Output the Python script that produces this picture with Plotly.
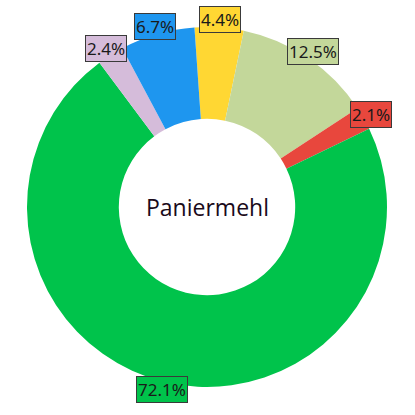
import math
import plotly.graph_objects as go

labels = ["Gelb", "Hellgrün", "Rot", "Grün", "Lila", "Blau"]
values = [4.4, 12.5, 2.1, 72.1, 2.4, 6.7]
colors = ["#FFD733", "#C3D79A", "#E8473D", "#00C34B", "#D5BCDA", "#1E96EF"]
label_text = ["4.4%", "12.5%", "2.1%", "72.1%", "2.4%", "6.7%"]
center_title = "Paniermehl"

W = H = 415
cx, cy, R = 207, 207, 180
rotation = -4

fig = go.Figure(go.Pie(
    labels=labels, values=values, sort=False, direction="clockwise",
    rotation=rotation, hole=0.49,
    marker=dict(colors=colors, line=dict(width=0)),
    textinfo="none", hoverinfo="label+percent", showlegend=False,
    domain=dict(x=[(cx - R) / W, (cx + R) / W], y=[1 - (cy + R) / H, 1 - (cy - R) / H]),
))

total = sum(values)
start = rotation
annotations = []
for v, c, t in zip(values, colors, label_text):
    span = v / total * 360
    mid = math.radians(start + span / 2)
    start += span
    r = R * 1.045
    x = cx + r * math.sin(mid)
    y = cy - r * math.cos(mid)
    annotations.append(dict(
        x=x / W, y=1 - y / H, xref="paper", yref="paper", text=t, showarrow=False,
        font=dict(family="Noto Sans", size=17, color="#1a1a1a"),
        bgcolor=c, bordercolor="#3a3a3a", borderwidth=1, borderpad=1,
        xanchor="center", yanchor="middle",
    ))

annotations.append(dict(
    x=cx / W, y=1 - cy / H, xref="paper", yref="paper", text=center_title, showarrow=False,
    font=dict(family="Open Sans", size=23, color="#1a0a1a"), xanchor="center", yanchor="middle",
))

fig.update_layout(
    width=W, height=H, margin=dict(l=0, r=0, t=0, b=0),
    paper_bgcolor="white", plot_bgcolor="white", annotations=annotations,
)
fig.write_html("out.html")
